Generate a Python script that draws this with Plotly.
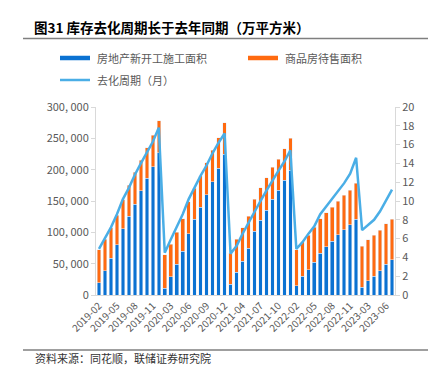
import plotly.graph_objects as go

months = [
    "2019-02","2019-03","2019-04","2019-05","2019-06","2019-07","2019-08","2019-09","2019-10","2019-11","2019-12",
    "2020-02","2020-03","2020-04","2020-05","2020-06","2020-07","2020-08","2020-09","2020-10","2020-11","2020-12",
    "2021-02","2021-03","2021-04","2021-05","2021-06","2021-07","2021-08","2021-09","2021-10","2021-11","2021-12",
    "2022-02","2022-03","2022-04","2022-05","2022-06","2022-07","2022-08","2022-09","2022-10","2022-11","2022-12",
    "2023-02","2023-03","2023-04","2023-05","2023-06","2023-07",
]
# 房地产新开工施工面积 (万平方米)
new_start = [
    19600, 39000, 59000, 80000, 106000, 126000, 145000, 166000, 186000, 205000, 227000,
    10600, 29000, 49000, 70000, 98000, 121000, 140000, 160000, 181000, 202000, 225000,
    17500, 36500, 54000, 75000, 102000, 119000, 135000, 153000, 167000, 183000, 199000,
    15000, 30000, 40000, 52000, 67000, 77000, 86000, 96000, 104000, 112000, 121000,
    12000, 23000, 30000, 39000, 49000, 56000,
]
# 商品房待售面积 (万平方米)
for_sale = [
    52400, 50000, 48000, 47000, 46000, 49000, 51000, 49000, 49000, 50000, 51000,
    53900, 52000, 51000, 52000, 51000, 49000, 50000, 51000, 50000, 49000, 50000,
    49500, 52500, 53000, 51000, 51000, 52000, 52000, 51000, 50000, 50000, 51000,
    57000, 55000, 55000, 56000, 55000, 54000, 54000, 54000, 55000, 55000, 57000,
    66000, 65000, 65000, 64000, 65000, 65000,
]
# 去化周期（月）
cycle = [
    4.9, 6.0, 7.2, 8.6, 10.2, 11.4, 12.8, 14.0, 15.1, 16.3, 17.8,
    4.5, 5.9, 7.2, 8.6, 10.2, 11.5, 12.7, 13.8, 15.1, 16.2, 17.2,
    4.4, 5.2, 6.5, 7.7, 8.9, 10.0, 11.1, 12.2, 13.2, 14.2, 15.4,
    4.9, 5.6, 6.5, 7.3, 8.6, 9.4, 10.2, 11.1, 11.9, 12.9, 14.6,
    6.9, 7.4, 8.0, 8.9, 10.1, 11.2,
]
left_ticks = [0, 50000, 100000, 150000, 200000, 250000, 300000]
left_labels = ["0", "50, 000", "100, 000", "150, 000", "200, 000", "250, 000", "300, 000"]
x_ticks = months[::3]

BLUE = "#0B72D2"
ORANGE = "#FF6A10"
LINE = "#4AAEE6"
GRAY = "#595959"
FONT = "Noto Sans CJK SC"

W, H = 428, 372
L, R, T, B = 96, 33, 107, 77
pw, ph = W - L - R, H - T - B

def px(x):
    return (x - L) / pw

def py(y):
    return (H - B - y) / ph

fig = go.Figure()
fig.add_trace(go.Bar(x=months, y=new_start, marker_color=BLUE, name="房地产新开工施工面积"))
fig.add_trace(go.Bar(x=months, y=for_sale, marker_color=ORANGE, name="商品房待售面积"))
fig.add_trace(go.Scatter(x=months, y=cycle, mode="lines", line=dict(color=LINE, width=2.5),
                         name="去化周期（月）", yaxis="y2"))

fig.update_layout(
    width=W, height=H,
    margin=dict(l=L, r=R, t=T, b=B, autoexpand=False),
    barmode="stack", bargap=0.4,
    showlegend=False,
    plot_bgcolor="white", paper_bgcolor="white",
    font=dict(family=FONT, color=GRAY, size=10),
    xaxis=dict(type="category", categoryorder="array", categoryarray=months,
               tickmode="array", tickvals=x_ticks, ticktext=x_ticks, tickangle=-45,
               showline=True, linecolor="#D9D9D9", linewidth=1, showgrid=False,
               ticks="", tickfont=dict(size=10, color=GRAY), range=[-0.5, len(months) - 0.5]),
    yaxis=dict(range=[0, 300000], tickmode="array", tickvals=left_ticks, ticktext=left_labels,
               showline=True, linecolor="#D9D9D9", showgrid=False, ticks="outside", ticklen=4,
               tickcolor="#D9D9D9", tickfont=dict(size=11, color=GRAY), zeroline=False),
    yaxis2=dict(range=[0, 20], dtick=2, overlaying="y", side="right",
                showline=True, linecolor="#D9D9D9", showgrid=False, ticks="outside", ticklen=4,
                tickcolor="#D9D9D9", tickfont=dict(size=11, color=GRAY), zeroline=False),
)

shapes = [
    dict(type="line", xref="paper", yref="paper", x0=px(23), x1=px(428), y0=py(38.5), y1=py(38.5),
         line=dict(color="#7F7F7F", width=1.5)),
    dict(type="line", xref="paper", yref="paper", x0=px(23), x1=px(428), y0=py(350), y1=py(350),
         line=dict(color="#7F7F7F", width=1.5)),
    dict(type="line", xref="paper", yref="paper", x0=px(60), x1=px(90), y0=py(58), y1=py(58),
         line=dict(color=BLUE, width=4.5)),
    dict(type="line", xref="paper", yref="paper", x0=px(248), x1=px(278), y0=py(58), y1=py(58),
         line=dict(color=ORANGE, width=4.5)),
    dict(type="line", xref="paper", yref="paper", x0=px(60), x1=px(90), y0=py(80), y1=py(80),
         line=dict(color=LINE, width=2.5)),
]
fig.update_layout(shapes=shapes)

ann = [
    dict(text="<b>图31 库存去化周期长于去年同期（万平方米）</b>", x=px(32), y=py(27),
         font=dict(size=13.5, color="#000000", family=FONT)),
    dict(text="房地产新开工施工面积", x=px(95), y=py(58), font=dict(size=11, color=GRAY, family=FONT)),
    dict(text="商品房待售面积", x=px(283), y=py(58), font=dict(size=11, color=GRAY, family=FONT)),
    dict(text="去化周期（月）", x=px(95), y=py(80), font=dict(size=11, color=GRAY, family=FONT)),
    dict(text="资料来源：同花顺，联储证券研究院", x=px(33), y=py(358), font=dict(size=11, color="#333333", family=FONT)),
]
for a in ann:
    a.update(xref="paper", yref="paper", xanchor="left", yanchor="middle", showarrow=False)
fig.update_layout(annotations=ann)

fig.write_html("out.html", config={"displayModeBar": False},
               post_script="document.body.style.margin='0';document.body.style.padding='0';")
